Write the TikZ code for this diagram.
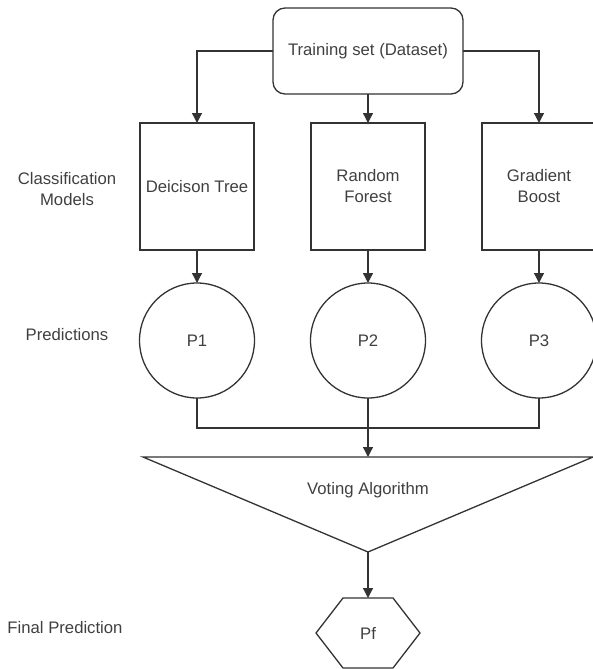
\documentclass[tikz,border=0pt]{standalone}
\usepackage{fontspec}
\setmainfont{Liberation Sans}
\usetikzlibrary{arrows.meta,positioning}
\definecolor{linegray}{HTML}{333333}
\definecolor{textgray}{HTML}{404040}

\begin{document}
\begin{tikzpicture}
  [x=1pt, y=-1pt, node distance=57pt,
  every node/.style={font=\fontsize{16.7}{21}\selectfont, text=textgray},
  dataset/.style={rectangle, rounded corners=12pt, draw=linegray, line width=1.3pt,
    minimum width=190pt, minimum height=86pt, outer sep=0pt},
  model/.style={rectangle, draw=linegray, line width=1.3pt, align=center,
    minimum width=114pt, minimum height=127pt, outer sep=0pt},
  predict/.style={circle, draw=linegray, line width=1.3pt,
    minimum size=115pt, outer sep=0pt},
  final/.style={rectangle, minimum width=104pt, minimum height=70pt, outer sep=0pt},
  side/.style={align=center},
  flow/.style={-{Triangle[length=10pt,width=10pt]}, draw=linegray, line width=1.3pt},
  link/.style={draw=linegray, line width=1.3pt}]

  \useasboundingbox (0,0) rectangle (593,669);

  \node[dataset] (data) at (368,51)      {Training set (Dataset)};
  \node[model] (rf) [below=29pt of data] {Random\\Forest};
  \node[model] (dt) [left=of rf]         {Deicison Tree};
  \node[model] (gb) [right=of rf]        {Gradient\\Boost};

  \node[predict] (p1) [below=33pt of dt] {P1};
  \node[predict] (p2) [below=33pt of rf] {P2};
  \node[predict] (p3) [below=33pt of gb] {P3};

  \node[side] (models) at (67,189)    {Classification\\Models};
  \node[side] (preds) at (67,335)     {Predictions};
  \node[side] (finalpred) at (65,628) {Final Prediction};

  % voting triangle
  \coordinate (join) at (368,428);
  \coordinate (vl) at (143,457);
  \coordinate (vr) at (593,457);
  \coordinate (vtop) at (368,457);
  \coordinate (apex) at (368,552);
  \draw[link] (vl) -- (vr) -- (apex) -- cycle;
  \node (vote) at (368,490) {Voting Algorithm};

  % final hexagon
  \node[final] (pf) at (368,633) {Pf};
  \draw[link, line join=miter] (pf.west) -- ([xshift=27pt]pf.north west)
    -- ([xshift=-27pt]pf.north east) -- (pf.east)
    -- ([xshift=-27pt]pf.south east) -- ([xshift=27pt]pf.south west) -- cycle;

  \draw[flow] (data.west) -| (dt.north);
  \draw[flow] (data.south) -- (rf.north);
  \draw[flow] (data.east) -| (gb.north);

  \draw[flow] (dt.south) -- (p1.north);
  \draw[flow] (rf.south) -- (p2.north);
  \draw[flow] (gb.south) -- (p3.north);

  \draw[link] (p1.south) |- (join);
  \draw[link] (p3.south) |- (join);
  \draw[link] (p2.south) -- (join);
  \draw[flow] (join) -- (vtop);

  \draw[flow] (apex) -- (pf.north);

\end{tikzpicture}
\end{document}
